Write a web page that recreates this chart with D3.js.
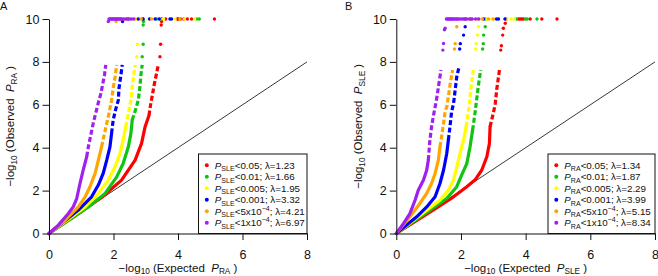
<!DOCTYPE html>
<html>
<head>
<meta charset="utf-8">
<script src="https://cdn.jsdelivr.net/npm/d3@7"></script>
<style>
  body { margin: 0; background: #fff; }
  svg { display: block; font-family: "Liberation Sans", Arial, sans-serif; }
</style>
</head>
<body>
<svg id="chart"></svg>
<script>
"use strict";

// QQ plots, two panels. Series order: P<0.05, <0.01, <0.005, <0.001, <5e-4, <1e-4
const seriesColors = ["#FF0000", "#11C411", "#FFFF00", "#0000FF", "#FFA500", "#A020F0"];
const thrBase = ["0.05", "0.01", "0.005", "0.001", "5x10", "1x10"];
const thrExp = [null, null, null, null, "\u22124", "\u22124"];
const lambdasA = [1.23, 1.66, 1.95, 3.32, 4.21, 6.97];
const lambdasB = [1.34, 1.87, 2.29, 3.99, 5.15, 8.34];
const xTicks = [0, 2, 4, 6, 8];
const yTicks = [0, 2, 4, 6, 8, 10];
const diag = [[0, 0], [8, 8]];
const capValue = 10; // observed values are capped at 10

// Panel A: dense lower part of each curve (expected, observed)
const denseA = [
  [[0, 0], [0.91, 0.93], [1.63, 1.68], [2.25, 2.49], [2.67, 3.42], [2.87, 4.2], [2.98, 4.98], [3.1, 5.5]],
  [[0, 0], [1.22, 1.24], [1.74, 1.87], [2.1, 2.64], [2.3, 3.26], [2.46, 4.04], [2.54, 4.67], [2.58, 5.29]],
  [[0, 0], [1.12, 1.24], [1.53, 1.87], [1.84, 2.49], [2.05, 3.11], [2.2, 3.73], [2.3, 4.36], [2.38, 4.98]],
  [[0, 0], [0.91, 1.09], [1.32, 1.71], [1.53, 2.26], [1.68, 2.8], [1.79, 3.42], [1.89, 4.04], [1.94, 4.67]],
  [[0, 0], [0.5, 0.62], [0.91, 1.24], [1.12, 1.71], [1.27, 2.18], [1.43, 2.8], [1.53, 3.42], [1.63, 4.04]],
  [[0, 0], [0.29, 0.39], [0.6, 0.93], [0.75, 1.24], [0.86, 1.63], [0.96, 2.33], [1.06, 2.95], [1.17, 3.58]]
];
// Panel A: broken upper part
const upperA = [
  [[3.1, 5.5], [3.15, 6.0], [3.27, 7.0], [3.39, 7.86]],
  [[2.58, 5.29], [2.66, 5.65], [2.77, 6.22], [2.82, 6.84], [2.85, 7.39], [2.89, 7.86]],
  [[2.38, 4.98], [2.46, 5.6], [2.54, 6.22], [2.58, 6.84], [2.63, 7.39], [2.67, 7.86]],
  [[1.94, 4.67], [1.99, 5.29], [2.07, 5.8], [2.15, 6.22], [2.17, 6.77], [2.23, 7.39], [2.27, 7.86]],
  [[1.63, 4.04], [1.72, 4.67], [1.79, 5.13], [1.86, 5.6], [1.94, 6.22], [1.99, 6.77], [2.05, 7.31], [2.1, 7.86]],
  [[1.17, 3.58], [1.22, 4.04], [1.37, 5.13], [1.48, 5.8], [1.53, 6.1], [1.61, 6.53], [1.72, 7.39], [1.76, 7.86]]
];
// Panel A: isolated points between 8 and 10
const tailA = [
  [[3.44, 8.24], [3.46, 8.82], [3.48, 9.72], [3.49, 9.88]],
  [[2.89, 8.24], [2.92, 8.82], [2.92, 9.72], [2.93, 9.88]],
  [[2.72, 8.24], [2.74, 8.82]],
  [[2.28, 9.88]],
  [[2.08, 9.88]],
  [[1.84, 9.88]]
];
// Panel A: expected values of the points at the cap
const topA = [
  [3.49, 3.62, 3.98, 4.01, 4.08, 4.18, 4.29, 4.42, 5.13],
  [2.9, 3.34, 3.49, 4.58, 4.66],
  [2.72, 3.08, 3.44, 3.55, 3.91, 4.2, 4.52],
  [2.12, 2.22, 2.45, 2.77, 2.92, 3.12, 3.29, 3.42, 3.75, 3.8],
  [2.0, 2.13, 2.24, 2.36, 2.41, 2.5, 2.67, 2.86, 3.18, 4.06],
  [1.86, 1.89, 1.92, 1.95, 1.98, 2.01, 2.04, 2.07, 2.11, 2.16, 2.2, 2.26, 2.32, 2.4, 2.47, 2.55, 2.62]
];

// Panel B
const denseB = [
  [[0, 0], [1.04, 1.0], [1.77, 1.71], [2.18, 2.18], [2.43, 2.49], [2.64, 2.95], [2.8, 3.58], [2.88, 4.2], [2.9, 4.98]],
  [[0, 0], [1.04, 1.09], [1.56, 1.63], [1.87, 2.18], [2.02, 2.72], [2.18, 3.26], [2.28, 4.04], [2.36, 4.82]],
  [[0, 0], [0.94, 1.09], [1.35, 1.55], [1.61, 2.02], [1.77, 2.49], [1.87, 3.11], [1.97, 3.73], [2.08, 4.36], [2.16, 4.98]],
  [[0, 0], [0.63, 0.78], [0.94, 1.24], [1.2, 1.71], [1.35, 2.33], [1.46, 2.95], [1.56, 3.73], [1.61, 4.36]],
  [[0, 0], [0.42, 0.78], [0.73, 1.4], [0.94, 1.87], [1.09, 2.33], [1.2, 2.8], [1.3, 3.42], [1.35, 4.04]],
  [[0, 0], [0.22, 0.46], [0.42, 0.93], [0.58, 1.55], [0.68, 2.02], [0.84, 2.49], [0.94, 2.95], [0.99, 3.42]]
];
const upperB = [
  [[2.9, 4.98], [3.02, 5.75], [3.06, 6.06], [3.11, 6.77], [3.19, 7.62]],
  [[2.36, 4.82], [2.44, 5.68], [2.47, 6.06], [2.54, 6.91], [2.61, 7.62]],
  [[2.16, 4.98], [2.23, 5.68], [2.26, 6.06], [2.31, 6.77], [2.38, 7.62]],
  [[1.61, 4.36], [1.66, 4.98], [1.71, 5.68], [1.77, 6.06], [1.82, 6.69], [1.87, 7.31], [1.93, 7.7]],
  [[1.35, 4.04], [1.4, 4.51], [1.46, 5.13], [1.51, 5.68], [1.56, 5.9], [1.61, 6.37], [1.66, 6.91], [1.74, 7.62]],
  [[0.99, 3.42], [1.04, 4.36], [1.09, 4.98], [1.15, 5.5], [1.25, 6.3], [1.35, 7.31], [1.38, 7.62]]
];
const tailB = [
  [[3.23, 8.55], [3.25, 8.75], [3.29, 9.25], [3.31, 9.57], [3.37, 9.8]],
  [[2.67, 8.6], [2.69, 8.85], [2.7, 9.25], [2.75, 9.64]],
  [[2.45, 8.6], [2.47, 8.85], [2.51, 9.25], [2.54, 9.64]],
  [[1.96, 8.6], [1.98, 8.85], [2.08, 9.25], [2.13, 9.64]],
  [[1.8, 8.6], [1.82, 8.85], [1.87, 9.64]],
  [[1.44, 8.55], [1.46, 8.86], [1.49, 9.5], [1.51, 9.57]]
];
const topB = [
  [3.4, 3.78, 3.83, 3.88, 3.93, 4.14, 4.5, 4.97],
  [2.76, 3.72, 4.0, 4.05, 4.35],
  [2.56, 2.8, 2.95, 3.42, 3.55, 3.65],
  [2.13, 2.3, 2.7, 3.1, 3.16, 3.36],
  [1.88, 2.1, 2.3, 2.5, 2.66, 2.85, 3.0],
  [1.55, 1.58, 1.61, 1.64, 1.67, 1.7, 1.73, 1.76, 1.8, 1.84, 1.88, 1.93, 1.98, 2.04, 2.1, 2.18, 2.26, 2.35, 2.45, 2.55]
];

const FONT = "'Liberation Sans', Arial, sans-serif";
const W = 658, H = 276;
const TICK_FS = 12.5, TITLE_FS = 11.5, LEG_FS = 9.8;

const svg = d3.select("#chart").attr("width", W).attr("height", H);
svg.append("rect").attr("width", W).attr("height", H).attr("fill", "#fff");

// text with italic / subscript / superscript pieces
function rich(sel, parts, fs) {
  let shift = 0;
  parts.forEach(p => {
    const target = p.sub ? fs * 0.25 : (p.sup ? -fs * 0.4 : 0);
    const ts = sel.append("tspan").attr("dy", target - shift).text(p.t);
    shift = target;
    if (p.sub || p.sup) ts.attr("font-size", fs * 0.72);
    if (p.it) ts.attr("font-style", "italic");
  });
}

function drawPanel(cfg) {
  const x = d3.scaleLinear().domain([0, 8]).range([cfg.left, cfg.right]);
  const y = d3.scaleLinear().domain([0, 10]).range([233.5, 19]);
  const g = svg.append("g");
  const line = d3.line().x(d => x(d[0])).y(d => y(d[1]));

  // reference diagonal
  g.append("path").attr("d", line(diag))
    .attr("fill", "none").attr("stroke", "#222").attr("stroke-width", 0.9);

  cfg.dense.forEach((s, i) => {
    g.append("path").attr("d", line(s))
      .attr("fill", "none").attr("stroke", seriesColors[i])
      .attr("stroke-width", 3.2).attr("stroke-linecap", "round").attr("stroke-linejoin", "round");
    g.append("path").attr("d", line(cfg.upper[i]))
      .attr("fill", "none").attr("stroke", seriesColors[i])
      .attr("stroke-width", 3.2).attr("stroke-dasharray", "5,2.5")
      .attr("stroke-linejoin", "round");
    g.selectAll(null).data(cfg.tail[i]).join("circle")
      .attr("cx", d => x(d[0])).attr("cy", d => y(d[1])).attr("r", 1.7)
      .attr("fill", seriesColors[i]);
  });
  cfg.top.forEach((s, i) => {
    g.selectAll(null).data(s).join("circle")
      .attr("cx", d => x(d)).attr("cy", y(capValue)).attr("r", 1.7)
      .attr("fill", seriesColors[i]);
  });

  // axes
  const xa = g.append("g").attr("transform", `translate(0,${y(0)})`)
    .call(d3.axisBottom(x).tickValues(xTicks).tickSize(6.5).tickSizeOuter(0).tickPadding(10)
      .tickFormat(d3.format("d")));
  const ya = g.append("g").attr("transform", `translate(${cfg.left},0)`)
    .call(d3.axisLeft(y).tickValues(yTicks).tickSize(6.5).tickSizeOuter(0).tickPadding(3)
      .tickFormat(d3.format("d")));
  [xa, ya].forEach(a => {
    a.attr("font-family", FONT).attr("font-size", TICK_FS);
    a.selectAll("text").attr("fill", "#111");
    a.selectAll("path, line").attr("stroke", "#111");
  });

  // axis titles
  const xt = g.append("text").attr("x", (cfg.left + cfg.right) / 2).attr("y", 271.5)
    .attr("text-anchor", "middle").attr("font-size", TITLE_FS).attr("fill", "#111");
  rich(xt, [{ t: "\u2212log" }, { t: "10", sub: true }, { t: " (Expected\u00a0\u00a0" },
    { t: "P", it: true }, { t: cfg.who, sub: true }, { t: "\u00a0)" }], TITLE_FS);

  const yt = g.append("text")
    .attr("transform", `translate(${cfg.yTitleX},${(y(0) + y(10)) / 2}) rotate(-90)`)
    .attr("text-anchor", "middle").attr("font-size", TITLE_FS).attr("fill", "#111");
  rich(yt, [{ t: "\u2212log" }, { t: "10", sub: true }, { t: " (Observed\u00a0\u00a0" },
    { t: "P", it: true }, { t: cfg.who, sub: true }, { t: "\u00a0)" }], TITLE_FS);

  // panel letter
  g.append("text").attr("x", cfg.letterX).attr("y", 9.5)
    .attr("font-size", 11).attr("fill", "#111").text(cfg.letter);

  // legend
  g.append("rect").attr("x", cfg.legendLeft).attr("y", 154)
    .attr("width", cfg.right - cfg.legendLeft).attr("height", y(0) - 154)
    .attr("fill", "#fff").attr("stroke", "#111").attr("stroke-width", 1);
  cfg.lambdas.forEach((lam, i) => {
    const ry = 165.2 + i * 11.5;
    g.append("circle").attr("cx", cfg.legendLeft + 8.3).attr("cy", ry).attr("r", 2)
      .attr("fill", seriesColors[i]);
    const t = g.append("text").attr("x", cfg.legendLeft + 16.3).attr("y", ry + 3.5)
      .attr("font-size", LEG_FS).attr("fill", "#111");
    const parts = [{ t: "P", it: true }, { t: cfg.other, sub: true }, { t: "<" + thrBase[i] }];
    if (thrExp[i]) parts.push({ t: thrExp[i], sup: true });
    parts.push({ t: "; \u03bb=" + lam.toFixed(2) });
    rich(t, parts, LEG_FS);
  });
}

drawPanel({
  left: 49, right: 307, letter: "A", letterX: 0, yTitleX: 14, who: "RA", other: "SLE",
  dense: denseA, upper: upperA, tail: tailA, top: topA, lambdas: lambdasA, legendLeft: 198.5
});
drawPanel({
  left: 396.3, right: 655, letter: "B", letterX: 345, yTitleX: 362, who: "SLE", other: "RA",
  dense: denseB, upper: upperB, tail: tailB, top: topB, lambdas: lambdasB, legendLeft: 548
});
</script>
</body>
</html>
